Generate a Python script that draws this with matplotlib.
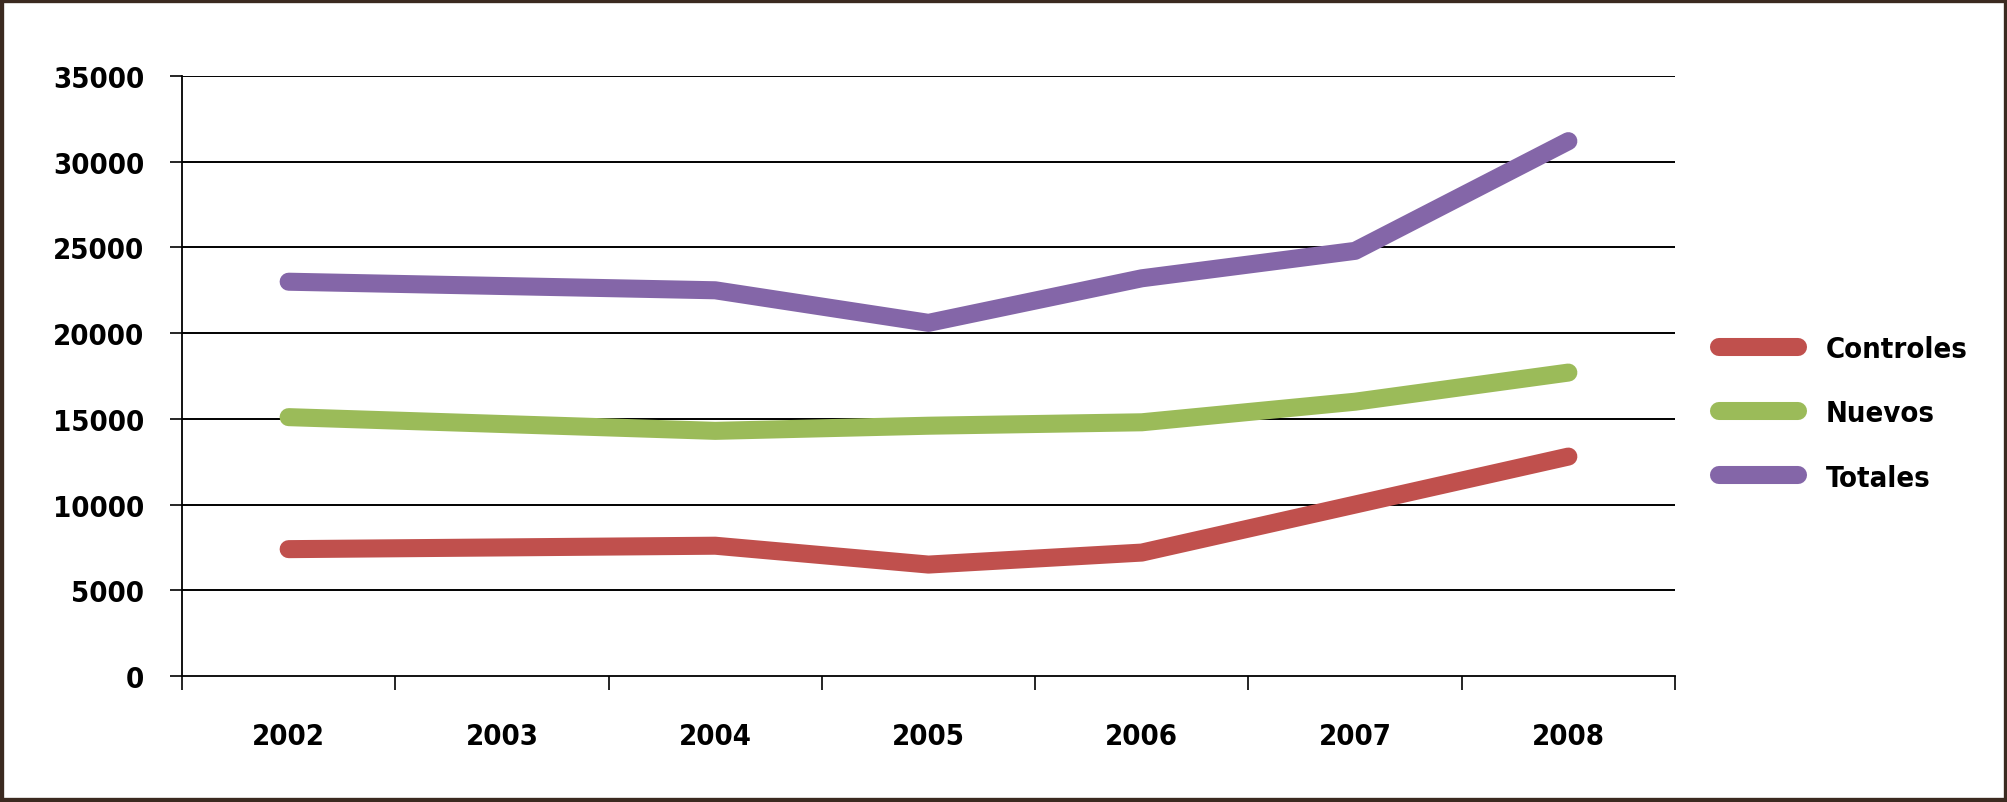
import os
import numpy as np
import matplotlib
matplotlib.use("Agg")
import matplotlib.pyplot as plt
from matplotlib import font_manager
from matplotlib.patches import Rectangle

# datos
anios = ["2002", "2003", "2004", "2005", "2006", "2007", "2008"]
controles = [7400, 7500, 7600, 6500, 7200, 10000, 12800]
nuevos = [15100, 14700, 14300, 14600, 14800, 16000, 17700]
totales = [23000, 22750, 22500, 20600, 23200, 24800, 31200]
yticks = [0, 5000, 10000, 15000, 20000, 25000, 30000, 35000]

rojo = "#C0504D"
verde = "#9BBB59"
morado = "#8466A8"

# buscar una fuente estrecha en negrita
fuente = None
preferidas = ["liberationsansnarrow-bold.", "dejavusanscondensed-bold.", "robotocondensed-bold.",
              "opensans_condensed-bold.", "opensanscondensed-bold.", "notosans-condensedbold."]
archivos = [f.fname for f in font_manager.fontManager.ttflist]
for p in preferidas:
    for a in archivos:
        if os.path.basename(a).lower().startswith(p):
            fuente = a
            break
    if fuente:
        break

if fuente:
    tam = 21
    fp = font_manager.FontProperties(fname=fuente, size=tam)
else:
    tam = 18
    fp = font_manager.FontProperties(family='DejaVu Sans', weight='bold', size=tam)

fig = plt.figure(figsize=(20.08, 8.03), dpi=100)
ax = fig.add_axes([182/2008, 1 - 677/803, (1675 - 182)/2008, (677 - 77)/803])

x = np.arange(len(anios))
ax.plot(x, controles, color=rojo, lw=13, solid_capstyle='round', solid_joinstyle='round', label='Controles')
ax.plot(x, nuevos, color=verde, lw=13, solid_capstyle='round', solid_joinstyle='round', label='Nuevos')
ax.plot(x, totales, color=morado, lw=13, solid_capstyle='round', solid_joinstyle='round', label='Totales')

ax.set_xlim(-0.5, len(anios) - 0.5)
ax.set_ylim(0, 35000)
ax.set_yticks(yticks)
ax.set_yticklabels([str(v) for v in yticks], fontproperties=fp)
ax.tick_params(axis='y', length=9, width=1.2, pad=18)
for v in yticks[1:]:
    ax.axhline(v, color='black', lw=1.4, zorder=0)

ax.set_xticks(np.arange(-0.5, len(anios), 1))
ax.set_xticklabels([])
ax.tick_params(axis='x', which='major', length=10, width=1.2, direction='out')
ax.set_xticks(x, minor=True)
ax.set_xticklabels(anios, minor=True, fontproperties=fp)
ax.tick_params(axis='x', which='minor', length=0, pad=33)

for s in ['top', 'right']:
    ax.spines[s].set_visible(False)
ax.spines['left'].set_linewidth(1.3)
ax.spines['bottom'].set_linewidth(1.3)

leg = fig.legend(loc='upper left', bbox_to_anchor=(1693/2008, 1 - 310/803), frameon=False,
                 handlelength=2.7, handletextpad=0.94, labelspacing=1.24, prop=fp)

fig.patches.append(Rectangle((0, 0), 1, 1, transform=fig.transFigure, fill=False,
                             edgecolor='#3B2A20', lw=6, zorder=10))

fig.savefig("out.png", dpi=100)
